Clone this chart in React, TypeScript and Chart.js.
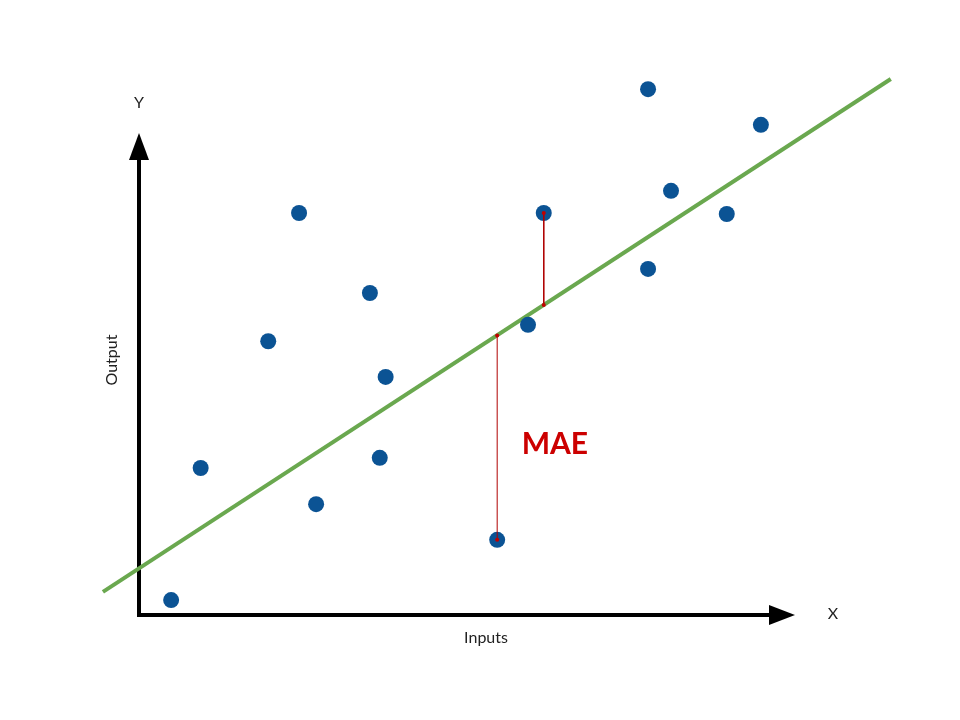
import React, { useEffect, useRef } from "react";
import { Chart, registerables } from "chart.js";

Chart.register(...registerables);

// Observed points (inputs, outputs)
const inputs = [0.49, 0.94, 1.97, 2.44, 2.70, 3.52, 3.67, 3.76, 5.46, 5.93, 6.17, 7.76, 7.76, 8.11, 8.96, 9.48];
const outputs = [0.31, 3.05, 5.68, 8.34, 2.30, 6.68, 3.26, 4.94, 1.56, 6.02, 8.34, 10.91, 7.18, 8.80, 8.32, 10.17];

// Fitted regression line endpoints
const fitX = [-0.55, 11.46];
const fitY = [0.48, 11.12];

// Residuals shown (x, observed y, fitted y)
const residX = [5.46, 6.17];
const residObs = [1.56, 8.34];
const residFit = [5.80, 6.43];

// Axis extent and labels
const axisMax = 10;
const xLabel = "Inputs";
const yLabel = "Output";
const xArrowLabel = "X";
const yArrowLabel = "Y";
const metricLabel = "MAE";

const X_MIN = -139 / 65.6;
const X_MAX = (960 - 139) / 65.6;
const Y_MIN = -(720 - 615) / 48.2;
const Y_MAX = 615 / 48.2;

export default function App() {
  const ref = useRef<HTMLCanvasElement>(null);

  useEffect(() => {
    if (!ref.current) return;

    const axesPlugin = {
      id: "axesPlugin",
      beforeDatasetsDraw(chart: any) {
        const { ctx, scales } = chart;
        const xs = scales.x;
        const ys = scales.y;
        const ox = xs.getPixelForValue(0);
        const oy = ys.getPixelForValue(0);
        const ty = ys.getPixelForValue(axisMax);
        const tx = xs.getPixelForValue(axisMax);
        ctx.save();
        ctx.strokeStyle = "#000";
        ctx.fillStyle = "#000";
        ctx.lineWidth = 4;
        ctx.lineCap = "butt";
        ctx.beginPath();
        ctx.moveTo(ox, oy);
        ctx.lineTo(ox, ty + 20);
        ctx.moveTo(ox - 2, oy);
        ctx.lineTo(tx - 20, oy);
        ctx.stroke();
        // arrow heads
        ctx.beginPath();
        ctx.moveTo(ox, ty);
        ctx.lineTo(ox - 10, ty + 27);
        ctx.lineTo(ox + 10, ty + 27);
        ctx.closePath();
        ctx.fill();
        ctx.beginPath();
        ctx.moveTo(tx, oy);
        ctx.lineTo(tx - 26, oy - 10);
        ctx.lineTo(tx - 26, oy + 10);
        ctx.closePath();
        ctx.fill();
        ctx.restore();
      },
      afterDatasetsDraw(chart: any) {
        const { ctx, scales } = chart;
        const xs = scales.x;
        const ys = scales.y;
        ctx.save();
        ctx.fillStyle = "#222";
        ctx.textAlign = "center";
        ctx.textBaseline = "middle";
        ctx.font = "16px Lato, 'Open Sans', sans-serif";
        ctx.fillText(yArrowLabel, xs.getPixelForValue(0), ys.getPixelForValue(10.62));
        ctx.fillText(xArrowLabel, xs.getPixelForValue(10.58), ys.getPixelForValue(0.02));
        ctx.fillText(xLabel, xs.getPixelForValue(5.29), ys.getPixelForValue(-0.48));
        ctx.save();
        ctx.translate(xs.getPixelForValue(-0.41), ys.getPixelForValue(5.29));
        ctx.rotate(-Math.PI / 2);
        ctx.fillText(yLabel, 0, 0);
        ctx.restore();
        ctx.fillStyle = "#cc0000";
        ctx.font = "bold 30px Lato, 'Open Sans', sans-serif";
        ctx.fillText(metricLabel, xs.getPixelForValue(6.34), ys.getPixelForValue(3.55));
        ctx.restore();
      },
    };

    const residualSets = residX.map((x, i) => ({
      type: "line" as const,
      data: [
        { x, y: residObs[i] },
        { x, y: residFit[i] },
      ],
      borderColor: "#b00000",
      backgroundColor: "#c00000",
      borderWidth: 1,
      pointRadius: 2,
      pointBorderWidth: 0,
      showLine: true,
      fill: false,
      order: 0,
    }));

    const chart = new Chart(ref.current, {
      type: "scatter",
      data: {
        datasets: [
          ...residualSets,
          {
            data: inputs.map((x, i) => ({ x, y: outputs[i] })),
            backgroundColor: "#0b5394",
            borderColor: "#0b5394",
            pointRadius: 8,
            pointBorderWidth: 0,
            order: 1,
          },
          {
            type: "line",
            data: fitX.map((x, i) => ({ x, y: fitY[i] })),
            borderColor: "#6aa84f",
            borderWidth: 4,
            pointRadius: 0,
            showLine: true,
            fill: false,
            order: 2,
          },
        ] as any,
      },
      options: {
        responsive: false,
        animation: false,
        devicePixelRatio: 1,
        layout: { padding: 0, autoPadding: false },
        plugins: {
          legend: { display: false },
          tooltip: { enabled: false },
        },
        scales: {
          x: { type: "linear", min: X_MIN, max: X_MAX, display: false },
          y: { type: "linear", min: Y_MIN, max: Y_MAX, display: false },
        },
      },
      plugins: [axesPlugin],
    });

    return () => chart.destroy();
  }, []);

  return (
    <div style={{ position: "absolute", left: 0, top: 0, width: 960, height: 720, background: "#fff" }}>
      <canvas ref={ref} width={960} height={720} />
    </div>
  );
}
